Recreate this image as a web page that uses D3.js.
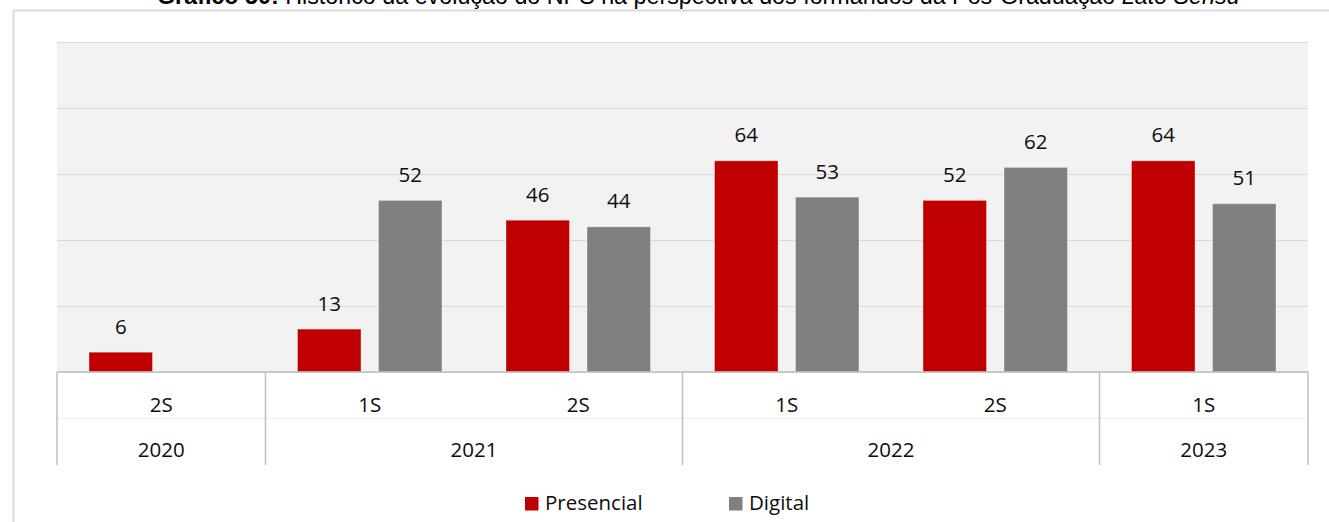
<!DOCTYPE html>
<html>
<head>
<meta charset="utf-8">
<script src="https://cdn.jsdelivr.net/npm/d3@7"></script>
<style>
  html, body { margin: 0; padding: 0; background: #fff; }
  svg { display: block; }
</style>
</head>
<body>
<svg id="chart" width="1329" height="522"></svg>
<script>
// NPS history of Lato Sensu graduate students, by semester
const periods   = ["2020-2S", "2021-1S", "2021-2S", "2022-1S", "2022-2S", "2023-1S"];
const semesters = ["2S", "1S", "2S", "1S", "2S", "1S"];
const years     = ["2020", "2021", "2022", "2023"];
const yearSpans = [[0, 0], [1, 2], [3, 4], [5, 5]];
const seriesNames = ["Presencial", "Digital"];
const presencial  = [6, 13, 46, 64, 52, 64];
const digital     = [null, 52, 44, 53, 62, 51];
const yTicks      = [0, 20, 40, 60, 80, 100];

const colors = { Presencial: "#c00000", Digital: "#808080" };
const labelFont = "'Open Sans', Lato, sans-serif";
const labelSize = 20.5;

const svg = d3.select("#chart");

// Chart frame
svg.append("rect")
  .attr("x", 13.5).attr("y", 10.5)
  .attr("width", 1340).attr("height", 540)
  .attr("fill", "#fff")
  .attr("stroke", "#d9d9d9").attr("stroke-width", 2);

// Title (partially above the frame)
const title = svg.append("text")
  .attr("x", 157).attr("y", 4)
  .attr("font-family", "'Liberation Sans', Arial, sans-serif")
  .attr("font-size", 20)
  .attr("fill", "#000");
title.append("tspan").attr("font-weight", "bold").text("Gráfico 50:");
title.append("tspan").text(" Histórico da evolução do NPS na perspectiva dos formandos da Pós-Graduação ");
title.append("tspan").attr("font-style", "italic").text("Lato Sensu");
const tLen = title.node().getComputedTextLength();
title.attr("font-size", 20 * 1083 / tLen);

const plot = { left: 57, right: 1308, top: 42, bottom: 372 };

const x0 = d3.scaleBand().domain(periods).range([plot.left, plot.right]).padding(0);
const x1 = d3.scaleBand().domain(seriesNames).range([0, x0.bandwidth()])
  .paddingInner(0.216).paddingOuter(0.395);
const y = d3.scaleLinear().domain([0, 100]).range([plot.bottom, plot.top]);

// Plot background
svg.append("rect")
  .attr("x", plot.left).attr("y", plot.top)
  .attr("width", plot.right - plot.left).attr("height", plot.bottom - plot.top)
  .attr("fill", "#f2f2f2");

// Horizontal gridlines
const yAxis = d3.axisLeft(y).tickValues(yTicks).tickSize(-(plot.right - plot.left)).tickFormat("");
const gy = svg.append("g").attr("transform", `translate(${plot.left},0)`).call(yAxis);
gy.select(".domain").remove();
gy.selectAll(".tick line").attr("stroke", "#d9d9d9").attr("stroke-width", 1);

// Bars
const rows = periods.map((p, i) => ({ period: p, values: [
  { key: "Presencial", value: presencial[i] },
  { key: "Digital", value: digital[i] }
]}));

const groups = svg.append("g").selectAll("g").data(rows).join("g")
  .attr("transform", d => `translate(${x0(d.period)},0)`);

groups.selectAll("rect").data(d => d.values.filter(v => v.value != null)).join("rect")
  .attr("x", d => x1(d.key))
  .attr("y", d => y(d.value))
  .attr("width", x1.bandwidth())
  .attr("height", d => y(0) - y(d.value))
  .attr("fill", d => colors[d.key])
  .attr("stroke", "rgba(255,255,255,0.35)")
  .attr("stroke-width", 1);

groups.selectAll("text").data(d => d.values.filter(v => v.value != null)).join("text")
  .attr("x", d => x1(d.key) + x1.bandwidth() / 2)
  .attr("y", d => y(d.value) - 18.5)
  .attr("text-anchor", "middle")
  .attr("font-family", labelFont)
  .attr("font-size", labelSize)
  .attr("fill", "#0d0d0d")
  .text(d => d.value);

// Category axis (two levels)
const axisColor = "#bfbfbf";
const gx = svg.append("g");
gx.append("line")
  .attr("x1", plot.left).attr("x2", plot.right)
  .attr("y1", plot.bottom).attr("y2", plot.bottom)
  .attr("stroke", axisColor).attr("stroke-width", 1.5);
gx.append("line")
  .attr("x1", plot.left).attr("x2", plot.right)
  .attr("y1", 418.5).attr("y2", 418.5)
  .attr("stroke", "#f0f0f0").attr("stroke-width", 1);

const boundaries = [plot.left].concat(yearSpans.map(s => x0(periods[s[1]]) + x0.bandwidth()));
gx.selectAll("line.sep").data(boundaries).join("line")
  .attr("class", "sep")
  .attr("x1", d => d).attr("x2", d => d)
  .attr("y1", plot.bottom).attr("y2", 465)
  .attr("stroke", axisColor).attr("stroke-width", 1.5);

gx.selectAll("text.sem").data(semesters).join("text")
  .attr("class", "sem")
  .attr("x", (d, i) => x0(periods[i]) + x0.bandwidth() / 2)
  .attr("y", 412)
  .attr("text-anchor", "middle")
  .attr("font-family", labelFont).attr("font-size", labelSize).attr("fill", "#0d0d0d")
  .text(d => d);

gx.selectAll("text.year").data(years).join("text")
  .attr("class", "year")
  .attr("x", (d, i) => (x0(periods[yearSpans[i][0]]) + x0(periods[yearSpans[i][1]]) + x0.bandwidth()) / 2)
  .attr("y", 457)
  .attr("text-anchor", "middle")
  .attr("font-family", labelFont).attr("font-size", labelSize).attr("fill", "#0d0d0d")
  .text(d => d);

// Legend
const legendX = { Presencial: 525, Digital: 729 };
const lg = svg.append("g").selectAll("g").data(seriesNames).join("g")
  .attr("transform", d => `translate(${legendX[d]},497)`);
lg.append("rect").attr("width", 13.5).attr("height", 13.5).attr("fill", d => colors[d]);
lg.append("text").attr("x", 20).attr("y", 13)
  .attr("font-family", labelFont).attr("font-size", labelSize).attr("fill", "#0d0d0d")
  .text(d => d);
</script>
</body>
</html>
